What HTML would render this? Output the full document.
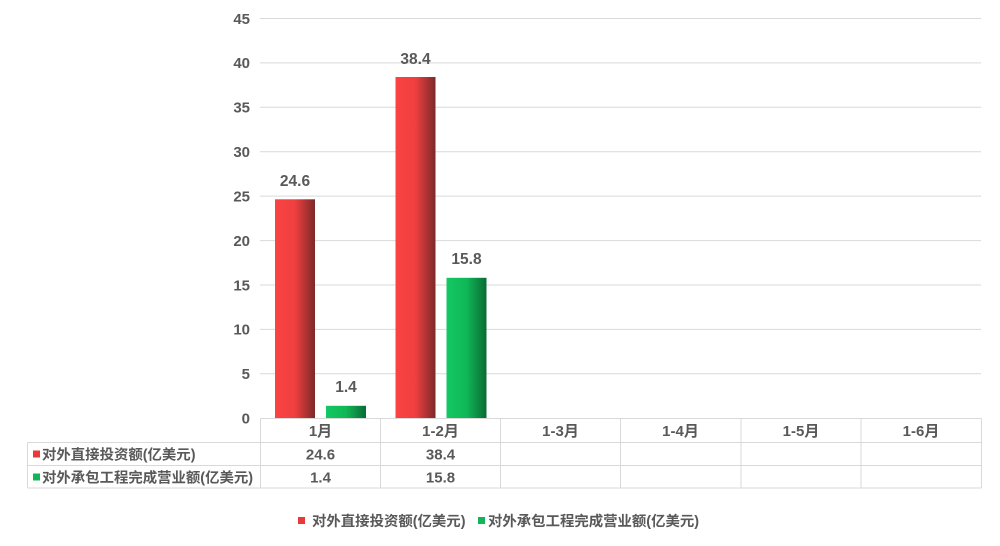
<!DOCTYPE html>
<html><head><meta charset="utf-8"><style>
html,body{margin:0;padding:0;background:#fff;}
svg{display:block;}
text{font-family:"Liberation Sans","Noto Sans CJK SC",sans-serif;font-weight:bold;fill:#595959;}
</style></head><body>
<svg width="1000" height="546" viewBox="0 0 1000 546" xmlns="http://www.w3.org/2000/svg">
<defs>
<linearGradient id="rg" x1="0" x2="1" y1="0" y2="0">
<stop offset="0" stop-color="#fb4343"/>
<stop offset="0.5" stop-color="#ef3f3f"/>
<stop offset="1" stop-color="#7c2929"/>
</linearGradient>
<linearGradient id="gg" x1="0" x2="1" y1="0" y2="0">
<stop offset="0" stop-color="#13c862"/>
<stop offset="0.5" stop-color="#10b757"/>
<stop offset="1" stop-color="#0a6b35"/>
</linearGradient>
</defs>
<g stroke="#d9d9d9" stroke-width="1">
<line x1="260" x2="981" y1="18.5" y2="18.5"/>
<line x1="260" x2="981" y1="62.9" y2="62.9"/>
<line x1="260" x2="981" y1="107.3" y2="107.3"/>
<line x1="260" x2="981" y1="151.7" y2="151.7"/>
<line x1="260" x2="981" y1="196.1" y2="196.1"/>
<line x1="260" x2="981" y1="240.6" y2="240.6"/>
<line x1="260" x2="981" y1="285" y2="285"/>
<line x1="260" x2="981" y1="329.4" y2="329.4"/>
<line x1="260" x2="981" y1="373.8" y2="373.8"/>
</g>
<g font-size="15" text-anchor="end">
<text x="250" y="23.8">45</text>
<text x="250" y="68.2">40</text>
<text x="250" y="112.6">35</text>
<text x="250" y="157">30</text>
<text x="250" y="201.4">25</text>
<text x="250" y="245.9">20</text>
<text x="250" y="290.3">15</text>
<text x="250" y="334.7">10</text>
<text x="250" y="379.1">5</text>
<text x="250" y="423.3">0</text>
</g>
<rect x="275" y="199.3" width="40" height="218.9" fill="url(#rg)"/>
<rect x="326" y="405.8" width="40" height="12.4" fill="url(#gg)"/>
<rect x="395.5" y="77" width="40" height="341.2" fill="url(#rg)"/>
<rect x="446.5" y="277.8" width="40" height="140.4" fill="url(#gg)"/>
<g font-size="15.5" text-anchor="middle">
<text x="295" y="186">24.6</text>
<text x="346" y="392">1.4</text>
<text x="415.5" y="64">38.4</text>
<text x="466.5" y="264">15.8</text>
</g>
<g stroke="#d9d9d9" stroke-width="1" fill="none">
<line x1="260.5" x2="981.5" y1="418.5" y2="418.5"/>
<line x1="27.5" x2="981.5" y1="442.5" y2="442.5"/>
<line x1="27.5" x2="981.5" y1="465.5" y2="465.5"/>
<line x1="27.5" x2="981.5" y1="488" y2="488"/>
<line x1="27.5" x2="27.5" y1="442.5" y2="488"/>
<line x1="260.5" x2="260.5" y1="418.5" y2="488"/>
<line x1="380.5" x2="380.5" y1="418.5" y2="488"/>
<line x1="500.5" x2="500.5" y1="418.5" y2="488"/>
<line x1="620.5" x2="620.5" y1="418.5" y2="488"/>
<line x1="741" x2="741" y1="418.5" y2="488"/>
<line x1="861" x2="861" y1="418.5" y2="488"/>
<line x1="981.5" x2="981.5" y1="418.5" y2="488"/>
</g>
<g font-size="15" text-anchor="middle">
<text x="320.5" y="436">1月</text>
<text x="440.5" y="436">1-2月</text>
<text x="560.5" y="436">1-3月</text>
<text x="680.5" y="436">1-4月</text>
<text x="801" y="436">1-5月</text>
<text x="921" y="436">1-6月</text>
<text x="320.5" y="459.5">24.6</text>
<text x="440.5" y="459.5">38.4</text>
<text x="320.5" y="482.5">1.4</text>
<text x="440.5" y="482.5">15.8</text>
</g>
<rect x="33" y="450.5" width="7" height="7" fill="#e83a3a"/>
<rect x="33" y="473.5" width="7" height="7" fill="#13b55a"/>
<g font-size="14.4">
<text x="42" y="459.5">对外直接投资额(亿美元)</text>
<text x="42" y="482.5">对外承包工程完成营业额(亿美元)</text>
</g>
<rect x="298" y="517" width="7" height="7" fill="#e83a3a"/>
<rect x="478" y="517" width="7" height="7" fill="#13b55a"/>
<g font-size="14.4">
<text x="312" y="526">对外直接投资额(亿美元)</text>
<text x="488" y="526">对外承包工程完成营业额(亿美元)</text>
</g>
</svg>
</body></html>
